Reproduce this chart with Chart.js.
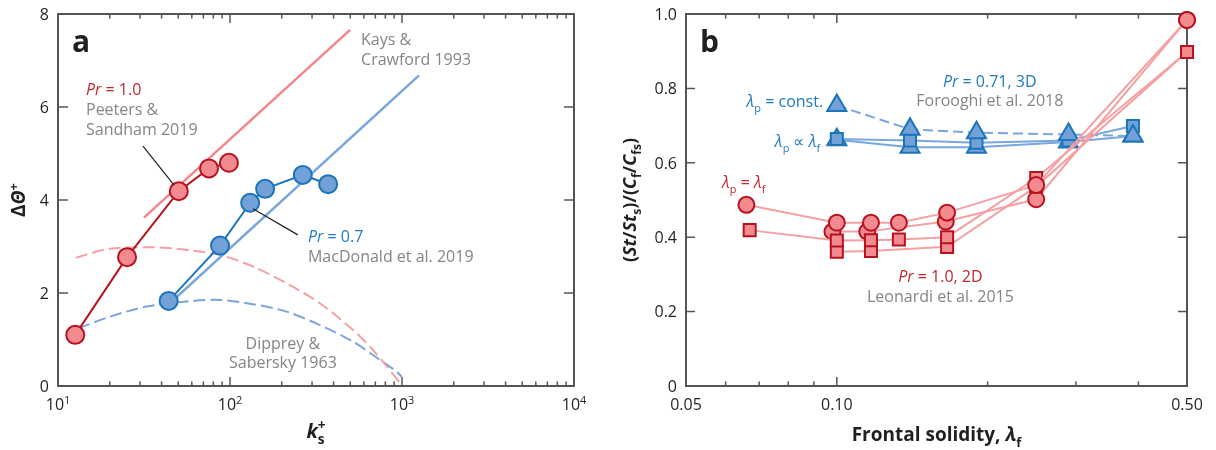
<!DOCTYPE html>
<html>
<head>
<meta charset="utf-8">
<script src="https://cdn.jsdelivr.net/npm/chart.js@4.4.0/dist/chart.umd.min.js"></script>
<style>
  body { margin: 0; background: #fff; }
  #wrap { position: relative; width: 1216px; height: 450px; }
  canvas { position: absolute; top: 0; }
</style>
</head>
<body>
<div id="wrap">
  <canvas id="chartA" width="608" height="450" style="left:0"></canvas>
  <canvas id="chartB" width="608" height="450" style="left:608px"></canvas>
</div>
<script>
/* ---- panel a : Delta Theta+ against ks+ ---- */
const peetersKs = [12.6, 25.2, 50.4, 75.5, 98.6];
const peetersDT = [1.10, 2.77, 4.19, 4.68, 4.80];
const macdonaldKs = [44, 87.5, 131, 160, 265, 372];
const macdonaldDT = [1.83, 3.02, 3.94, 4.24, 4.54, 4.34];
const kaysRedKs = [31.6, 499];
const kaysRedDT = [3.62, 7.66];
const kaysBlueKs = [44.7, 1256];
const kaysBlueDT = [1.78, 6.68];
const dippreyRedKs = [12.7, 20, 39, 67, 87.5, 136, 213, 333, 521, 650, 816, 995];
const dippreyRedDT = [2.76, 2.95, 2.98, 2.89, 2.82, 2.57, 2.21, 1.78, 1.20, 0.85, 0.42, 0.02];
const dippreyBlueKs = [13.1, 20, 32.8, 61, 87.5, 136, 213, 333, 521, 745, 930, 995];
const dippreyBlueDT = [1.24, 1.49, 1.71, 1.83, 1.85, 1.76, 1.60, 1.31, 0.95, 0.56, 0.31, 0.20];

const aMajorTicks = [10, 100, 1000, 10000];
const aTickExponents = ['1', '2', '3', '4'];
const aMinorTicks = [20, 30, 40, 50, 60, 70, 80, 90, 200, 300, 400, 500, 600, 700, 800, 900,
  2000, 3000, 4000, 5000, 6000, 7000, 8000, 9000];
const aYTicks = [0, 2, 4, 6, 8];
const aYLabels = ['0', '2', '4', '6', '8'];

/* ---- panel b : (St/Sts)/(Cf/Cfs) against frontal solidity ---- */
const leoCircleAX = [0.066, 0.10, 0.117, 0.133, 0.166, 0.25, 0.50];
const leoCircleAY = [0.487, 0.439, 0.439, 0.439, 0.466, 0.540, 0.984];
const leoCircleBX = [0.098, 0.115, 0.165, 0.25, 0.50];
const leoCircleBY = [0.415, 0.415, 0.442, 0.502, 0.984];
const leoSquareAX = [0.067, 0.10, 0.117, 0.133, 0.166, 0.25, 0.50];
const leoSquareAY = [0.419, 0.391, 0.392, 0.394, 0.400, 0.559, 0.898];
const leoSquareBX = [0.10, 0.117, 0.166, 0.25, 0.50];
const leoSquareBY = [0.361, 0.363, 0.374, 0.536, 0.898];
const foroLambda = [0.10, 0.14, 0.19, 0.29, 0.39];
const foroConstTri = [0.754, 0.690, 0.681, 0.676, 0.672];
const foroPropSq = [0.664, 0.660, 0.654, 0.660, 0.699];
const foroPropTri = [0.662, 0.642, 0.642, 0.656, 0.672];

const bMajorTicks = [0.05, 0.10, 0.50];
const bTickLabels = ['0.05', '0.10', '0.50'];
const bMinorTicks = [0.06, 0.07, 0.08, 0.09, 0.2, 0.3, 0.4];
const bYTicks = [0, 0.2, 0.4, 0.6, 0.8, 1.0];
const bYLabels = ['0', '0.2', '0.4', '0.6', '0.8', '1.0'];

/* colours */
const RED_DARK = '#b8121f';
const RED_TXT = '#c1272d';
const RED_FILL = '#f28b90';
const RED_LIGHT = '#f3868b';
const RED_PALE = '#f5a0a3';
const BLUE_DARK = '#1c74ba';
const BLUE_TXT = '#1f7bc1';
const BLUE_FILL = '#72a1d7';
const BLUE_LIGHT = '#79a6dc';
const GRAY_TXT = '#858585';
const AXIS = '#555555';
const INK = '#231f20';
const FONT = "'Open Sans', sans-serif";

function pts(xs, ys) { return xs.map((x, i) => ({ x: x, y: ys[i] })); }

/* draws a run of text pieces (italic / bold / sub / sup) one after another,
   a piece with stack:true lets the next piece sit above it */
function rich(ctx, parts, x, y, align, size) {
  const items = parts.map(p => {
    const s = (p.sub || p.sup) ? size * 0.68 : size;
    const font = (p.i ? 'italic ' : '') + (p.b ? 'bold ' : '') + s.toFixed(1) + 'px ' + FONT;
    ctx.font = font;
    const w = ctx.measureText(p.t).width;
    return { p: p, font: font, w: w, dy: p.sub ? size * 0.3 : (p.sup ? -size * 0.38 : 0) };
  });
  let total = 0;
  items.forEach((it, k) => {
    let adv = it.w;
    if (k > 0 && items[k - 1].p.stack) adv = Math.max(adv, items[k - 1].w);
    if (it.p.stack) adv = 0;
    it.adv = adv;
    total += adv;
  });
  let cx = align === 'center' ? x - total / 2 : (align === 'right' ? x - total : x);
  ctx.textAlign = 'left';
  ctx.textBaseline = 'alphabetic';
  items.forEach(it => {
    ctx.font = it.font;
    ctx.fillStyle = it.p.c || INK;
    ctx.fillText(it.p.t, cx, y + it.dy);
    cx += it.adv;
  });
}

function drawFrame(chart, xMajor, xMinor, majLen, minLen, yTicks, yLen) {
  const { ctx, chartArea: a, scales: { x, y } } = chart;
  ctx.save();
  ctx.strokeStyle = AXIS;
  ctx.lineWidth = 1.5;
  ctx.beginPath();
  const tick = (v, len) => {
    const px = x.getPixelForValue(v);
    ctx.moveTo(px, a.bottom); ctx.lineTo(px, a.bottom - len);
    ctx.moveTo(px, a.top); ctx.lineTo(px, a.top + len);
  };
  xMajor.forEach(v => tick(v, majLen));
  xMinor.forEach(v => tick(v, minLen));
  yTicks.forEach(v => {
    const py = y.getPixelForValue(v);
    ctx.moveTo(a.left, py); ctx.lineTo(a.left + yLen, py);
    ctx.moveTo(a.right, py); ctx.lineTo(a.right - yLen, py);
  });
  ctx.stroke();
  ctx.lineWidth = 2;
  ctx.strokeRect(a.left, a.top, a.right - a.left, a.bottom - a.top);
  ctx.restore();
}

function drawYLabels(chart, ticks, labels) {
  const { ctx, chartArea: a, scales: { y } } = chart;
  ctx.save();
  ctx.font = '16px ' + FONT;
  ctx.fillStyle = INK;
  ctx.textAlign = 'right';
  ctx.textBaseline = 'alphabetic';
  ticks.forEach((v, i) => ctx.fillText(labels[i], a.left - 9, y.getPixelForValue(v) + 5.7));
  ctx.restore();
}

function drawNotes(chart, notes, leaders) {
  const { ctx, scales: { x, y } } = chart;
  ctx.save();
  ctx.strokeStyle = INK;
  ctx.lineWidth = 1.2;
  leaders.forEach(l => {
    ctx.beginPath();
    ctx.moveTo(x.getPixelForValue(l.x1), y.getPixelForValue(l.y1));
    ctx.lineTo(x.getPixelForValue(l.x2), y.getPixelForValue(l.y2));
    ctx.stroke();
  });
  notes.forEach(n => rich(ctx, n.parts, x.getPixelForValue(n.x), y.getPixelForValue(n.y), n.align || 'left', n.size || 16));
  ctx.restore();
}

function rotated(ctx, parts, x, y, size) {
  ctx.save();
  ctx.translate(x, y);
  ctx.rotate(-Math.PI / 2);
  rich(ctx, parts, 0, 0, 'center', size);
  ctx.restore();
}

function scaleOpts(type, min, max, fit) {
  return {
    type: type, min: min, max: max,
    grid: { display: false, drawTicks: false },
    border: { display: false },
    ticks: { display: false },
    afterFit: fit
  };
}

function baseOptions(padRight, yWidth, xType, xMin, xMax, yMax) {
  return {
    responsive: false,
    animation: false,
    devicePixelRatio: 1,
    events: [],
    layout: { padding: { left: 0, right: padRight, top: 14, bottom: 0 }, autoPadding: false },
    plugins: { legend: { display: false }, tooltip: { enabled: false } },
    scales: {
      x: scaleOpts(xType, xMin, xMax, s => { s.height = 64; }),
      y: scaleOpts('linear', 0, yMax, s => { s.width = yWidth; })
    }
  };
}

/* ---------------- panel a ---------------- */
const aNotes = [
  { x: 12.06, y: 7.18, size: 30, parts: [{ t: 'a', b: true }] },
  { x: 14.55, y: 6.26, parts: [{ t: 'Pr', i: true, c: RED_TXT }, { t: ' = 1.0', c: RED_TXT }] },
  { x: 14.55, y: 5.83, parts: [{ t: 'Peeters &', c: GRAY_TXT }] },
  { x: 14.55, y: 5.40, parts: [{ t: 'Sandham 2019', c: GRAY_TXT }] },
  { x: 578, y: 7.33, parts: [{ t: 'Kays &', c: GRAY_TXT }] },
  { x: 578, y: 6.90, parts: [{ t: 'Crawford 1993', c: GRAY_TXT }] },
  { x: 284, y: 3.10, parts: [{ t: 'Pr', i: true, c: BLUE_TXT }, { t: ' = 0.7', c: BLUE_TXT }] },
  { x: 284, y: 2.67, parts: [{ t: 'MacDonald et al. 2019', c: GRAY_TXT }] },
  { x: 203, y: 0.80, align: 'center', parts: [{ t: 'Dipprey &', c: GRAY_TXT }] },
  { x: 203, y: 0.39, align: 'center', parts: [{ t: 'Sabersky 1963', c: GRAY_TXT }] }
];
const aLeaders = [
  { x1: 31.2, y1: 5.16, x2: 47.3, y2: 4.32 },
  { x1: 136, y1: 3.81, x2: 248, y2: 3.25 }
];

const decoA = {
  id: 'decoA',
  beforeDatasetsDraw(chart) {
    drawFrame(chart, aMajorTicks, aMinorTicks, 9, 4.5, aYTicks, 10);
  },
  afterDatasetsDraw(chart) {
    const { ctx, chartArea: a, scales: { x } } = chart;
    drawYLabels(chart, aYTicks, aYLabels);
    aMajorTicks.forEach((v, i) => {
      rich(ctx, [{ t: '10' }, { t: aTickExponents[i], sup: true }], x.getPixelForValue(v), a.bottom + 24, 'center', 16);
    });
    rotated(ctx, [{ t: '\u0394', b: true }, { t: '\u0398', b: true, i: true }, { t: '+', b: true, sup: true }], a.left - 33, (a.top + a.bottom) / 2, 19);
    rich(ctx, [{ t: 'k', b: true, i: true }, { t: 's', b: true, sub: true, stack: true }, { t: '+', b: true, sup: true }],
      (a.left + a.right) / 2, a.bottom + 52, 'center', 20);
    drawNotes(chart, aNotes, aLeaders);
  }
};

new Chart(document.getElementById('chartA'), {
  type: 'scatter',
  data: {
    datasets: [
      { data: pts(peetersKs, peetersDT), showLine: true, borderColor: RED_DARK, borderWidth: 2,
        pointRadius: 9, pointBackgroundColor: RED_FILL, pointBorderColor: RED_DARK, pointBorderWidth: 2, clip: false },
      { data: pts(macdonaldKs, macdonaldDT), showLine: true, borderColor: BLUE_DARK, borderWidth: 2,
        pointRadius: 9, pointBackgroundColor: BLUE_FILL, pointBorderColor: BLUE_DARK, pointBorderWidth: 2, clip: false },
      { data: pts(kaysRedKs, kaysRedDT), showLine: true, borderColor: RED_LIGHT, borderWidth: 2.5, pointRadius: 0 },
      { data: pts(kaysBlueKs, kaysBlueDT), showLine: true, borderColor: BLUE_LIGHT, borderWidth: 2.5, pointRadius: 0 },
      { data: pts(dippreyRedKs, dippreyRedDT), showLine: true, borderColor: RED_PALE, borderWidth: 2,
        borderDash: [12, 5], pointRadius: 0, tension: 0.3, clip: false },
      { data: pts(dippreyBlueKs, dippreyBlueDT), showLine: true, borderColor: BLUE_LIGHT, borderWidth: 2,
        borderDash: [12, 5], pointRadius: 0, tension: 0.3, clip: false }
    ]
  },
  options: baseOptions(34, 58, 'logarithmic', 10, 10000, 8),
  plugins: [decoA]
});

/* ---------------- panel b ---------------- */
const lam = (c, sub) => [{ t: '\u03bb', i: true, c: c }, { t: sub, sub: true, c: c }];
const bNotes = [
  { x: 0.05334, y: 0.898, size: 30, parts: [{ t: 'b', b: true }] },
  { x: 0.0939, y: 0.750, align: 'right', parts: lam(BLUE_TXT, 'p').concat([{ t: ' = const.', c: BLUE_TXT }]) },
  { x: 0.0926, y: 0.642, align: 'right', parts: lam(BLUE_TXT, 'p').concat([{ t: ' \u221d ', c: BLUE_TXT }], lam(BLUE_TXT, 'f')) },
  { x: 0.0590, y: 0.532, parts: lam(RED_TXT, 'p').concat([{ t: ' = ', c: RED_TXT }], lam(RED_TXT, 'f')) },
  { x: 0.202, y: 0.804, align: 'center', parts: [{ t: 'Pr', i: true, c: BLUE_TXT }, { t: ' = 0.71, 3D', c: BLUE_TXT }] },
  { x: 0.202, y: 0.753, align: 'center', parts: [{ t: 'Forooghi et al. 2018', c: GRAY_TXT }] },
  { x: 0.161, y: 0.280, align: 'center', parts: [{ t: 'Pr', i: true, c: RED_TXT }, { t: ' = 1.0, 2D', c: RED_TXT }] },
  { x: 0.161, y: 0.226, align: 'center', parts: [{ t: 'Leonardi et al. 2015', c: GRAY_TXT }] }
];

const decoB = {
  id: 'decoB',
  beforeDatasetsDraw(chart) {
    drawFrame(chart, bMajorTicks, bMinorTicks, 9, 4.5, bYTicks, 9);
  },
  afterDatasetsDraw(chart) {
    const { ctx, chartArea: a, scales: { x } } = chart;
    drawYLabels(chart, bYTicks, bYLabels);
    ctx.save();
    ctx.font = '16px ' + FONT;
    ctx.fillStyle = INK;
    ctx.textAlign = 'center';
    ctx.textBaseline = 'alphabetic';
    bMajorTicks.forEach((v, i) => ctx.fillText(bTickLabels[i], x.getPixelForValue(v), a.bottom + 24));
    ctx.restore();
    rotated(ctx, [
      { t: '(', b: true }, { t: 'St', b: true, i: true }, { t: '/', b: true }, { t: 'St', b: true, i: true },
      { t: 's', b: true, sub: true }, { t: ')/(', b: true }, { t: 'C', b: true, i: true }, { t: 'f', b: true, sub: true },
      { t: '/', b: true }, { t: 'C', b: true, i: true }, { t: 'fs', b: true, sub: true }, { t: ')', b: true }
    ], a.left - 50, (a.top + a.bottom) / 2, 18);
    rich(ctx, [{ t: 'Frontal solidity, ', b: true }, { t: '\u03bb', b: true, i: true }, { t: 'f', b: true, sub: true }],
      (a.left + a.right) / 2, a.bottom + 55, 'center', 19);
    drawNotes(chart, bNotes, []);
  }
};

const redPts = { pointBackgroundColor: RED_FILL, pointBorderColor: RED_DARK, pointBorderWidth: 2 };
const bluePts = { pointBackgroundColor: BLUE_FILL, pointBorderColor: BLUE_DARK, pointBorderWidth: 2 };

new Chart(document.getElementById('chartB'), {
  type: 'scatter',
  data: {
    datasets: [
      Object.assign({ data: pts(leoCircleAX, leoCircleAY), showLine: true, borderColor: RED_PALE, borderWidth: 2,
        pointStyle: 'circle', pointRadius: 8, clip: false }, redPts),
      Object.assign({ data: pts(leoSquareAX, leoSquareAY), showLine: true, borderColor: RED_PALE, borderWidth: 2,
        pointStyle: 'rect', pointRadius: 8.5, clip: false }, redPts),
      Object.assign({ data: pts(leoSquareBX, leoSquareBY), showLine: true, borderColor: RED_PALE, borderWidth: 2,
        pointStyle: 'rect', pointRadius: 8.5, clip: false }, redPts),
      Object.assign({ data: pts(leoCircleBX, leoCircleBY), showLine: true, borderColor: RED_PALE, borderWidth: 2,
        pointStyle: 'circle', pointRadius: 8, clip: false }, redPts),
      Object.assign({ data: pts(foroLambda, foroConstTri), showLine: true, borderColor: BLUE_LIGHT, borderWidth: 2,
        borderDash: [10, 5], pointStyle: 'triangle', pointRadius: 11, clip: false }, bluePts),
      Object.assign({ data: pts(foroLambda, foroPropSq), showLine: true, borderColor: BLUE_LIGHT, borderWidth: 2,
        pointStyle: 'rect', pointRadius: 8.5, clip: false }, bluePts),
      Object.assign({ data: pts(foroLambda, foroPropTri), showLine: true, borderColor: BLUE_LIGHT, borderWidth: 2,
        pointStyle: 'triangle', pointRadius: 11, clip: false }, bluePts)
    ]
  },
  options: baseOptions(29, 78, 'logarithmic', 0.05, 0.5, 1),
  plugins: [decoB]
});
</script>
</body>
</html>
